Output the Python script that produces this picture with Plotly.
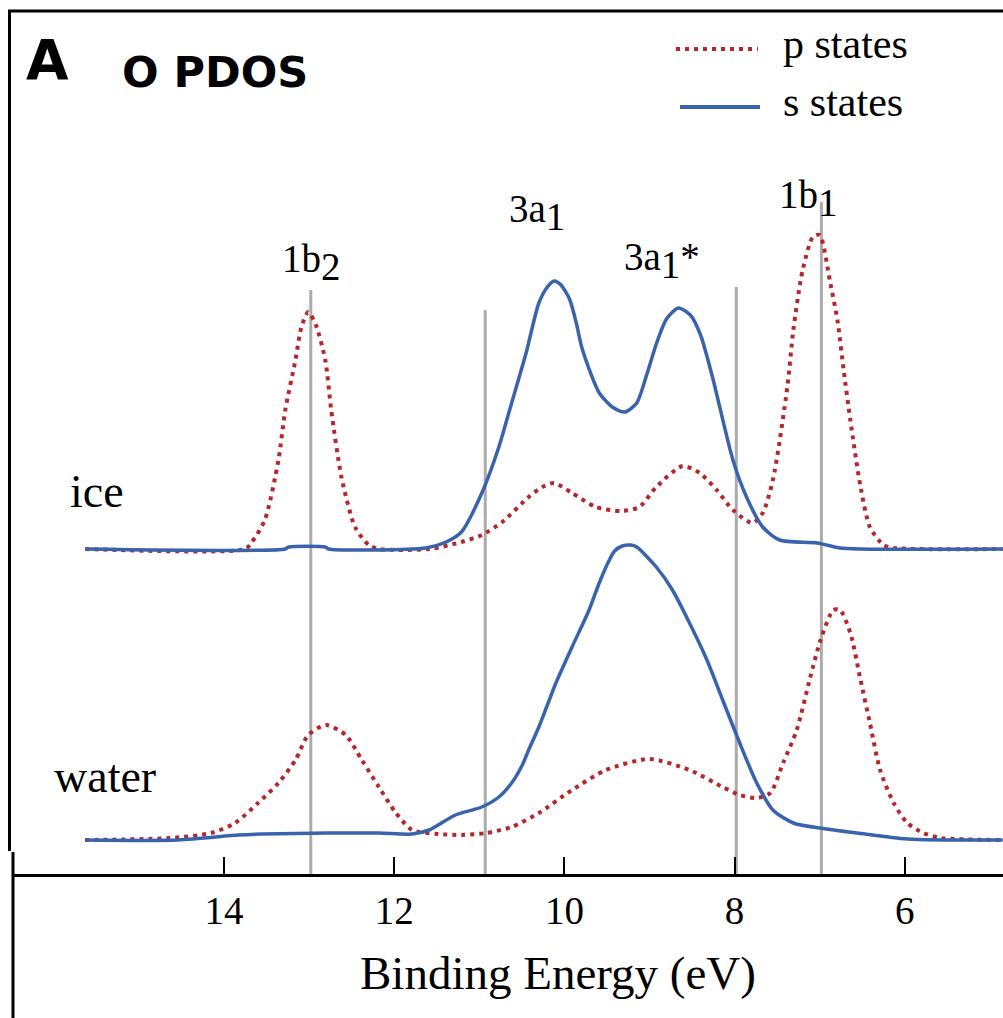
import plotly.graph_objects as go

# ---------------- data ----------------
# Binding energies (eV) and O PDOS intensities (arb. units) for ice
ice_p_energy = [15.63, 13.75, 13.68, 13.52, 13.36, 13.28, 13.16, 13.09, 13.01, 12.92, 12.81, 12.74,
                12.62, 12.46, 12.30, 12.18, 11.59, 11.21, 10.97, 10.73, 10.42, 10.26, 10.12,
                9.91, 9.63, 9.33, 9.12, 8.92, 8.61, 8.41, 8.21, 8.02, 7.79, 7.67, 7.55, 7.38,
                7.31, 7.20, 7.08, 7.00, 6.88, 6.79, 6.72, 6.64, 6.52, 6.41, 6.25, 6.13, 4.85]
ice_p_value = [0, 0, 6, 29, 89, 139, 189, 222, 237, 224, 189, 139,
               72, 22, 4, 0, 0, 7, 14, 27, 52, 62, 66,
               56, 42, 38, 42, 62, 83, 76, 59, 39, 26, 36, 69, 162,
               219, 279, 312, 314, 268, 228, 180, 129, 62, 22, 4, 1, 0]

ice_s_energy = [15.63, 13.28, 13.24, 12.81, 12.77, 11.63, 11.39, 11.21, 10.97, 10.77, 10.62,
                10.45, 10.30, 10.20, 10.12, 10.04, 9.94, 9.86, 9.79, 9.59, 9.42, 9.29, 9.15,
                9.03, 8.92, 8.80, 8.66, 8.52, 8.40, 8.26, 8.02, 7.86, 7.67, 7.47, 7.03, 6.76,
                6.52, 4.85]
ice_s_value = [0, 0, 2, 2, 0, 1, 7, 17, 56, 102, 146,
               196, 246, 262, 268, 264, 250, 226, 200, 156, 141, 137, 146,
               175, 205, 230, 241, 234, 214, 172, 89, 52, 22, 9, 6, 1,
               0, 0]

# water
water_p_energy = [15.63, 14.63, 14.15, 13.87, 13.60, 13.36, 13.16, 13.01, 12.80, 12.57, 12.38,
                  12.18, 11.98, 11.79, 11.48, 11.21, 10.92, 10.62, 10.30, 9.91, 9.51, 9.00,
                  8.53, 8.14, 7.94, 7.74, 7.58, 7.43, 7.27, 7.11, 6.99, 6.84, 6.76, 6.64,
                  6.52, 6.41, 6.29, 6.13, 5.97, 5.78, 5.58, 4.85]
water_p_value = [0, 2, 7, 17, 37, 57, 80, 105, 115, 105, 80,
                 53, 27, 10, 6, 5, 7, 13, 27, 50, 70, 81,
                 70, 53, 45, 42, 47, 77, 110, 163, 200, 230, 230, 207,
                 160, 117, 70, 37, 17, 7, 2, 0]

water_s_energy = [15.63, 14.54, 13.83, 13.56, 12.77, 12.18, 11.79, 11.59, 11.28, 10.97, 10.77,
                  10.62, 10.50, 10.42, 10.30, 10.20, 10.10, 9.91, 9.71, 9.60, 9.50, 9.41,
                  9.32, 9.22, 9.15, 8.92, 8.73, 8.53, 8.33, 8.14, 7.94, 7.74, 7.55, 7.31,
                  7.00, 6.56, 5.97, 4.85]
water_s_value = [0, 0, 5, 6, 7, 7, 6, 10, 25, 33, 43,
                 57, 74, 90, 113, 135, 157, 193, 230, 255, 275, 289,
                 294, 295, 293, 273, 250, 217, 181, 140, 97, 57, 30, 17,
                 12, 7, 1, 0]

# orbital markers
orbital_labels = ["1b<sub><span style='font-size:39px'>2</span></sub>",
                  "3a<sub><span style='font-size:39px'>1</span></sub>",
                  "3a<sub><span style='font-size:39px'>1</span></sub>*",
                  "1b<sub><span style='font-size:39px'>1</span></sub>"]
orbital_energy = [12.98, 10.93, 7.98, 6.98]
orbital_line_top = [584, 564, 587, 672]

tick_values = [14, 12, 10, 8, 6]
series_names = ["p states", "s states"]
x_title = "Binding Energy (eV)"

# ---------------- styling ----------------
W, H = 1003, 1018
ML, MB = 12, 144
PLOT_H = H - MB  # 874
RED = "#b3282d"
BLUE = "#3a63ad"
GRAY = "#ababab"
SERIF = "Liberation Serif"
SANS = "DejaVu Sans"
ICE_OFFSET = 325
WATER_OFFSET = 34


def px(x):
    return (x - ML) / (W - ML)


def py(y):
    return (PLOT_H - y) / PLOT_H


fig = go.Figure()

red_line = dict(color=RED, width=4, dash="4px,5px", shape="spline", smoothing=0.7)
blue_line = dict(color=BLUE, width=3.5, shape="spline", smoothing=0.7)

fig.add_trace(go.Scatter(x=ice_p_energy, y=[v + ICE_OFFSET for v in ice_p_value],
                         mode="lines", line=red_line, showlegend=False))
fig.add_trace(go.Scatter(x=water_p_energy, y=[v + WATER_OFFSET for v in water_p_value],
                         mode="lines", line=red_line, showlegend=False))
fig.add_trace(go.Scatter(x=ice_s_energy, y=[v + ICE_OFFSET for v in ice_s_value],
                         mode="lines", line=blue_line, showlegend=False))
fig.add_trace(go.Scatter(x=water_s_energy, y=[v + WATER_OFFSET for v in water_s_value],
                         mode="lines", line=blue_line, showlegend=False))

shapes = []
# orbital reference lines
for e, top in zip(orbital_energy, orbital_line_top):
    shapes.append(dict(type="line", xref="x", yref="y", x0=e, x1=e, y0=0, y1=top,
                       line=dict(color=GRAY, width=3), layer="below"))

# frame
shapes.append(dict(type="line", xref="paper", yref="paper", x0=px(8), x1=1,
                   y0=py(11), y1=py(11), line=dict(color="black", width=3)))
shapes.append(dict(type="line", xref="paper", yref="paper", x0=px(9.5), x1=px(9.5),
                   y0=py(10), y1=py(851), line=dict(color="black", width=3)))
shapes.append(dict(type="line", xref="paper", yref="paper", x0=px(13), x1=px(13),
                   y0=py(852), y1=py(1018), line=dict(color="black", width=3)))
# legend samples
shapes.append(dict(type="line", xref="paper", yref="paper", x0=px(676), x1=px(758),
                   y0=py(49), y1=py(49), line=dict(color=RED, width=4, dash="4px,5px")))
shapes.append(dict(type="line", xref="paper", yref="paper", x0=px(680), x1=px(760),
                   y0=py(107), y1=py(107), line=dict(color=BLUE, width=4)))

annotations = []


def ann(text, x, y, size, family=SERIF, xanchor="left", yanchor="middle", weight="normal"):
    annotations.append(dict(text=text, xref="paper", yref="paper", x=px(x), y=py(y),
                            xanchor=xanchor, yanchor=yanchor, showarrow=False,
                            font=dict(family=family, size=size, color="black", weight=weight)))


ann("A", 47, 60, 55, family=SANS, xanchor="center", weight="bold")
ann("O PDOS", 215, 72, 43, family=SANS, xanchor="center", weight="bold")
ann(series_names[0], 781, 44, 42)
ann(series_names[1], 781, 102, 42)
ann("ice", 68, 492, 46)
ann("water", 52, 776, 46)
ann(x_title, 558, 973, 47, xanchor="center")

label_pos = [(280, 262), (507, 212), (622, 260), (777, 198)]
for t, (x, y) in zip(orbital_labels, label_pos):
    ann(t, x, y, 39)

fig.update_layout(
    width=W, height=H,
    margin=dict(l=ML, r=0, t=0, b=MB),
    paper_bgcolor="white", plot_bgcolor="white",
    showlegend=False,
    shapes=shapes, annotations=annotations,
    xaxis=dict(range=[16.491, 4.846], showgrid=False, zeroline=False,
               showline=True, linecolor="black", linewidth=3,
               ticks="inside", ticklen=17, tickwidth=2, tickcolor="black",
               tickvals=tick_values, ticktext=[str(t) for t in tick_values],
               tickfont=dict(family=SERIF, size=39, color="black")),
    yaxis=dict(range=[0, PLOT_H], visible=False, fixedrange=True),
)

fig.write_html("out.html")
